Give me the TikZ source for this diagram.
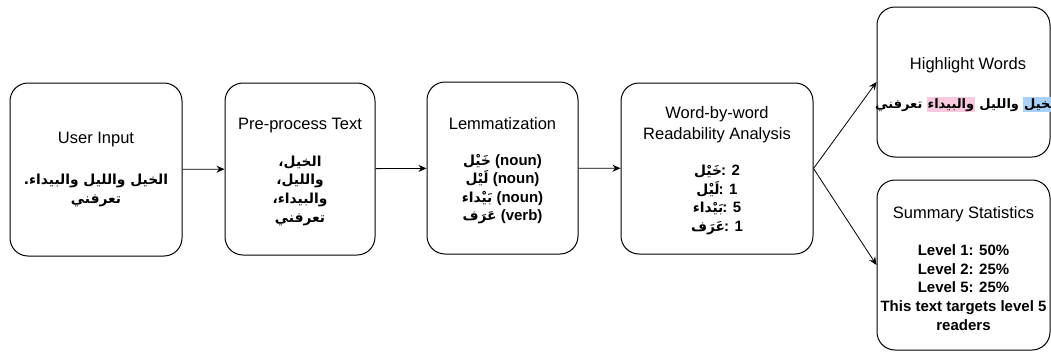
\documentclass[tikz,border=0pt]{standalone}
\usepackage{fontspec}
\setmainfont{Liberation Sans}
\newfontfamily\arabicfont[Script=Arabic]{DejaVu Sans}
\TeXXeTstate=1
\usetikzlibrary{arrows.meta}

\definecolor{hlblue}{HTML}{A9D1F7}
\definecolor{hlpink}{HTML}{F9C9DF}

\newcommand{\ar}[1]{{\arabicfont\bfseries\fontsize{13.8}{18.6}\selectfont\beginR #1\endR}}
\newcommand{\arsm}[1]{{\arabicfont\bfseries\fontsize{13}{18}\selectfont\beginR #1\endR}}
\newcommand{\ttl}{\fontsize{16.5}{21}\selectfont\mdseries}
\newcommand{\hlword}[2]{{\setlength{\fboxsep}{1pt}\colorbox{#1}{\arsm{#2}}}}

\begin{document}
\begin{tikzpicture}[x=1pt, y=-1pt
	, every node/.style={
		align=center
		, inner sep=0pt
		, font=\fontsize{15}{18.6}\selectfont\bfseries
	}
	, stage/.style={draw, rounded corners=18pt, line width=1pt}
	, flow/.style={-{Stealth[length=8pt, width=7pt]}, line width=0.8pt}
]
\useasboundingbox (0,0) rectangle (1051,351);

\foreach \name/\x/\y/\w/\h in {
	user/96/169.5/172/173
	, prep/300/169/150/172
	, lem/502.5/168/151/172
	, read/717/168.5/192/171
	, hl/963.5/82/173/150
	, stats/963.5/265/173/170
}{
	\node[stage, minimum width=\w pt, minimum height=\h pt] (\name) at (\x,\y) {};
}

% texts
\node (userT) at (user) {{\ttl User Input}\\[22pt]
	\ar{الخيل والليل والبيداء.}\\ \ar{تعرفني}};
\node (prepT) at ([yshift=-3pt]prep) {{\ttl Pre-process Text}\\[18pt]
	\ar{الخيل،}\\ \ar{والليل،}\\ \ar{والبيداء،}\\ \ar{تعرفني}};
\node (lemT) at ([yshift=-3pt]lem) {{\ttl Lemmatization}\\[17pt]
	\ar{خَيْل} (noun)\\ \ar{لَيْل} (noun)\\ \ar{بَيْداء} (noun)\\ \ar{عَرَف} (verb)};
\node (readT) at ([yshift=-2pt]read) {{\ttl Word-by-word}\\[2.4pt] {\ttl Readability Analysis}\\[18pt]
	\ar{خَيْل}\kern-1pt: 2\\ \ar{لَيْل}\kern-1pt: 1\\ \ar{بَيْداء}\kern-1pt: 5\\ \ar{عَرَف}\kern-1pt: 1};
% words in visual order, left to right
\node (hlT) at ([xshift=4.5pt, yshift=-3pt]hl) {{\ttl Highlight Words}\\[20pt]
	\arsm{تعرفني} \hlword{hlpink}{والبيداء} \arsm{والليل} \hlword{hlblue}{الخيل}};
\node (statsT) at ([yshift=-4pt]stats) {{\ttl Summary Statistics}\\[18pt]
	Level 1: 50\%\\ Level 2: 25\%\\ Level 5: 25\%\\ This text targets level 5\\[1pt] readers};

\draw[flow] (user) -- (prep);
\draw[flow] (prep) -- (lem);
\draw[flow] (lem) -- (read);
\draw[flow] (read.east) -- (hl.west);
\draw[flow] (read.east) -- (stats.west);

\end{tikzpicture}
\end{document}
